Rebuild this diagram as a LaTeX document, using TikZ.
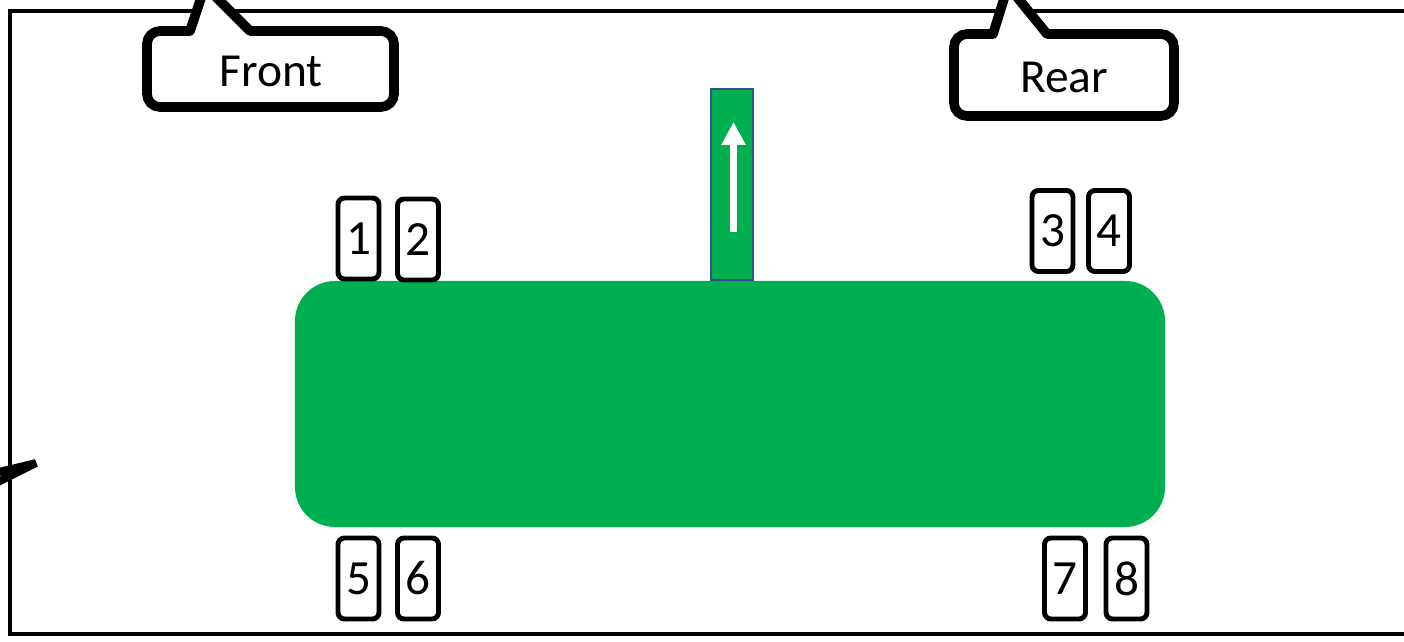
\documentclass[tikz,border=0pt]{standalone}
\usepackage{fontspec}
\setmainfont{Carlito}
\usepackage{xcolor}
\usetikzlibrary{arrows.meta,positioning}

\definecolor{bodygreen}{HTML}{00B050}
\definecolor{edgeblue}{HTML}{2F528F}

\begin{document}
\begin{tikzpicture}[
  x=0.2mm,y=-0.2mm,
  wheel/.style={draw,line width=2.8pt,rounded corners=1.3mm,minimum width=8.2mm,minimum height=16.2mm,inner sep=0pt,font=\fontsize{28}{32}\selectfont},
  callout/.style={draw,line width=5.5pt,line join=round,fill=white},
  lbl/.style={font=\fontsize{27}{31}\selectfont,inner sep=0pt},
  body/.style={fill=bodygreen,rounded corners=8mm,minimum width=174mm,minimum height=49.2mm,inner sep=0pt},
  arr/.style={-{Triangle[width=4.6mm,length=4.6mm]},white,line width=4pt}
]
  \useasboundingbox (0,0) rectangle (1404,642);
  \clip (0,0) rectangle (1404,642);

  % outer frame
  \draw[line width=1.9pt] (1430,11) -- (10,11) -- (10,634) -- (1430,634);

  % left pointer
  \draw[line width=4.5pt,line join=bevel] (-30,479) -- (36,463) -- (-30,496);

  % chassis
  \node[body] (chassis) at (730,404) {};

  % direction marker
  \node[draw=edgeblue,line width=1.2pt,fill=bodygreen,minimum width=8.4mm,minimum height=38.2mm,inner sep=0pt] (dir) at (732,184.5) {};
  \coordinate (dirlo) at (733.5,232);
  \coordinate (dirhi) at (733.5,122);
  \draw[arr] (dirlo) -- (dirhi);

  % callouts
  \draw[callout] (300,31) [rounded corners=2.6mm] -- (394,31) -- (394,107) -- (147,107) -- (147,31) [sharp corners] -- (190,31) -- (205,-14) -- (250,31) -- cycle;
  \node[lbl] (front) at (271,71) {Front};

  \draw[callout] (1100,34) [rounded corners=2.6mm] -- (1174,34) -- (1174,116) -- (954,116) -- (954,34) [sharp corners] -- (993,34) -- (1008,-14) -- (1047,34) -- cycle;
  \node[lbl] (rear) at (1064,77) {Rear};

  % wheels
  \node[wheel] (w1) at (358.5,238.5) {1};
  \node[wheel] (w2) at (418,239.5) {2};
  \node[wheel] (w3) at (1052.5,231) {3};
  \node[wheel] (w4) at (1109,231) {4};
  \node[wheel] (w5) at (358.5,578.5) {5};
  \node[wheel] (w6) at (418,578.5) {6};
  \node[wheel] (w7) at (1065,578.5) {7};
  \node[wheel] (w8) at (1126.5,578.5) {8};
\end{tikzpicture}
\end{document}
